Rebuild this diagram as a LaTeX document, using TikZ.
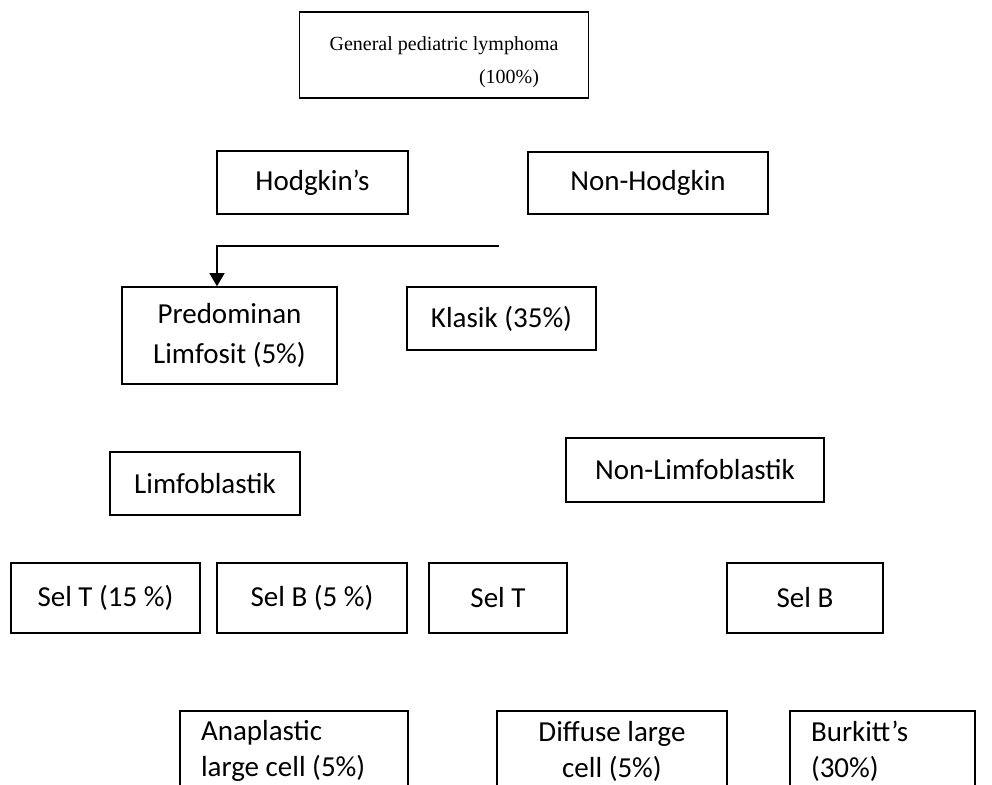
\documentclass[tikz,border=0pt]{standalone}
\usepackage{fontspec}
\setmainfont{Carlito}
\newfontfamily\serifbox{Liberation Serif}
\usepackage{tikz}
\usetikzlibrary{arrows.meta,positioning}
\tikzset{
  box/.style    ={draw,line width=0.75pt,inner sep=0pt,
                  font=\fontsize{14.5}{20}\selectfont},
  cbox/.style   ={box,align=center},
  lbox/.style   ={box,align=flush left,inner xsep=10.5pt},
  low/.style    ={font=\fontsize{14.5}{18}\selectfont},
  flow/.style   ={-{Triangle[length=6.5pt,width=7.5pt]},line width=0.65pt},
}

\begin{document}
\begin{tikzpicture}[x=0.5pt,y=-0.5pt]
  \useasboundingbox (0,0) rectangle (992,785);
  \clip (0,0) rectangle (992,785);
  % top level
  \node[cbox,minimum width=144.5pt,minimum height=43pt,text height=31pt,
        font=\serifbox\fontsize{10}{16.5}\selectfont] (all) at (444,55)
    {General pediatric lymphoma\\\hspace*{65pt}(100\%)};
  % hodgkin / non-hodgkin
  \node[cbox,minimum width=95.5pt,minimum height=31.5pt] (hodg) at (312.5,182.5) {Hodgkin’s};
  \node[cbox,minimum width=120pt,minimum height=31pt] (nonhodg) at (648,183) {Non-Hodgkin};
  \node[cbox,minimum width=107.5pt,minimum height=48.5pt] (predom) at (229.5,335.5) {Predominan\\Limfosit (5\%)};
  \node[cbox,minimum width=94.5pt,minimum height=31.5pt] (klasik) at (501.5,318.5) {Klasik (35\%)};
  \coordinate (split) at (499,246);
  \draw[flow] (split) -| ([xshift=-6.25pt]predom.north);
  % limfoblastik / non-limfoblastik
  \node[cbox,minimum width=95pt,minimum height=31.5pt] (limfo) at (205,483.5) {Limfoblastik};
  \node[cbox,minimum width=129pt,minimum height=32pt] (nonlimfo) at (695,470) {Non-Limfoblastik};
  % sel T / sel B
  \node[cbox,minimum width=94.5pt,minimum height=35pt] (selTa) at (105.5,598) {Sel T (15 \%)};
  \node[cbox,minimum width=95pt,minimum height=35pt] (selBa) at (312,598) {Sel B (5 \%)};
  \node[cbox,minimum width=69pt,minimum height=35pt] (selTb) at (498,598) {Sel T};
  \node[cbox,minimum width=78pt,minimum height=35pt] (selBb) at (805,598) {Sel B};
  % bottom row, cut off by the page
  \node[lbox,low,text width=93pt,minimum height=40pt] (anapl) at (294,751) {Anaplastic\\large cell (5\%)};
  \node[cbox,low,minimum width=115pt,minimum height=40pt] (diffuse) at (612,751) {Diffuse large\\cell (5\%)};
  \node[lbox,low,text width=71.5pt,minimum height=40pt] (burkitt) at (882.5,751) {Burkitt’s\\(30\%)};
\end{tikzpicture}
\end{document}
